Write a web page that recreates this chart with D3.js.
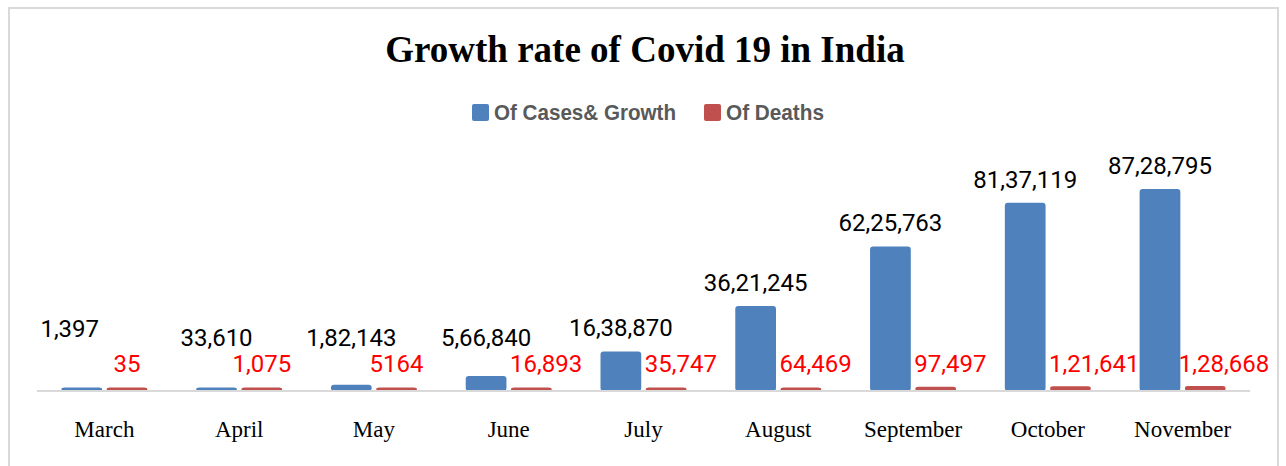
<!DOCTYPE html>
<html>
<head>
<meta charset="utf-8">
<script src="https://cdn.jsdelivr.net/npm/d3@7/dist/d3.min.js"></script>
<style>
  html, body { margin: 0; padding: 0; background: #fff; }
  svg { display: block; }
</style>
</head>
<body>
<svg id="chart" width="1286" height="466"></svg>
<script>
// Monthly totals
const months = ["March", "April", "May", "June", "July", "August", "September", "October", "November"];
const cases = [1397, 33610, 182143, 566840, 1638870, 3621245, 6225763, 8137119, 8728795];
const deaths = [35, 1075, 5164, 16893, 35747, 64469, 97497, 121641, 128668];
// Label text as written on the chart (Indian digit grouping)
const caseLabels = ["1,397", "33,610", "1,82,143", "5,66,840", "16,38,870", "36,21,245", "62,25,763", "81,37,119", "87,28,795"];
const deathLabels = ["35", "1,075", "5164", "16,893", "35,747", "64,469", "97,497", "1,21,641", "1,28,668"];
const seriesNames = ["Of Cases& Growth", "Of Deaths"];
const title = "Growth rate of Covid 19 in India";

const colors = ["#4F81BD", "#C0504D"];

const svg = d3.select("#chart");

// chart frame
svg.append("rect")
  .attr("x", 9).attr("y", 8)
  .attr("width", 1269).attr("height", 470)
  .attr("fill", "#fff")
  .attr("stroke", "#d9d9d9").attr("stroke-width", 2);

// title
svg.append("text")
  .attr("x", 645).attr("y", 62)
  .attr("text-anchor", "middle")
  .attr("font-family", "'Liberation Serif', 'Times New Roman', serif")
  .attr("font-weight", "bold")
  .attr("font-size", 37)
  .attr("fill", "#000")
  .text(title);

// scales
const plotLeft = 37, plotRight = 1250, baseY = 390;
const x0 = d3.scaleBand().domain(months).range([plotLeft, plotRight]).paddingInner(0).paddingOuter(0);
const x1 = d3.scaleBand().domain([0, 1]).range([0, 86]).paddingInner(0.1);
const groupOffset = (x0.bandwidth() - 86) / 2;
const y = d3.scaleLinear().domain([0, 10000000]).range([baseY, 161]);

// legend (condensed bold text)
const legendFont = "'Liberation Sans Narrow', 'Arial Narrow', 'Liberation Sans', sans-serif";
const legendItems = [{x: 472, w: 182}, {x: 704, w: 98}];
legendItems.forEach((it, i) => {
  const g = svg.append("g").attr("transform", `translate(${it.x},104)`);
  g.append("rect").attr("width", 17).attr("height", 17).attr("rx", 2).attr("fill", colors[i]);
  g.append("text")
    .attr("x", 22).attr("y", 16)
    .attr("font-family", legendFont)
    .attr("font-weight", "bold")
    .attr("font-size", 22)
    .attr("fill", "#595959")
    .attr("textLength", it.w)
    .attr("lengthAdjust", "spacingAndGlyphs")
    .text(seriesNames[i]);
});

// bars
const series = [cases, deaths];
const groups = svg.append("g");
months.forEach((m, i) => {
  series.forEach((vals, s) => {
    const bx = x0(m) + groupOffset + x1(s);
    const top = Math.min(y(vals[i]), baseY - 1.5);
    groups.append("rect")
      .attr("x", bx + 1)
      .attr("y", top)
      .attr("width", x1.bandwidth() - 2)
      .attr("height", baseY - top)
      .attr("rx", 2)
      .attr("fill", colors[s])
      .attr("stroke", colors[s])
      .attr("stroke-width", 2)
      .attr("stroke-linejoin", "round");
  });
});

// baseline
svg.append("line")
  .attr("x1", plotLeft).attr("x2", plotRight)
  .attr("y1", baseY + 1).attr("y2", baseY + 1)
  .attr("stroke", "#d9d9d9").attr("stroke-width", 2);

// category labels
const xAxis = d3.axisBottom(x0).tickSize(0).tickPadding(0);
const axisG = svg.append("g").attr("transform", `translate(0,${baseY})`).call(xAxis);
axisG.select(".domain").remove();
axisG.selectAll("text")
  .attr("y", 47).attr("dy", null)
  .attr("font-family", "'Liberation Serif', 'Times New Roman', serif")
  .attr("font-size", 23)
  .attr("fill", "#000");

// value labels
const labelFont = "Roboto, 'Noto Sans', sans-serif";
const caseNudge = [[-12, -9], [0, 0], [0, 0], [0, 0], [0, 0], [0, 0], [0, 0], [0, 0], [0, 0]];
months.forEach((m, i) => {
  const cx = x0(m) + groupOffset + x1(0) + x1.bandwidth() / 2;
  const top = y(cases[i]);
  svg.append("text")
    .attr("x", cx + caseNudge[i][0])
    .attr("y", Math.min(top - 16, 346) + caseNudge[i][1])
    .attr("text-anchor", "middle")
    .attr("font-family", labelFont)
    .attr("font-size", 24)
    .attr("fill", "#000")
    .text(caseLabels[i]);

  const dx = x0(m) + groupOffset + x1(1);
  const wide = i >= 3;
  svg.append("text")
    .attr("x", wide ? dx - (i === 8 ? 6 : 1) : dx + x1.bandwidth() / 2)
    .attr("y", 372)
    .attr("text-anchor", wide ? "start" : "middle")
    .attr("font-family", labelFont)
    .attr("font-size", 24)
    .attr("fill", "#FF0000")
    .text(deathLabels[i]);
});
</script>
</body>
</html>
